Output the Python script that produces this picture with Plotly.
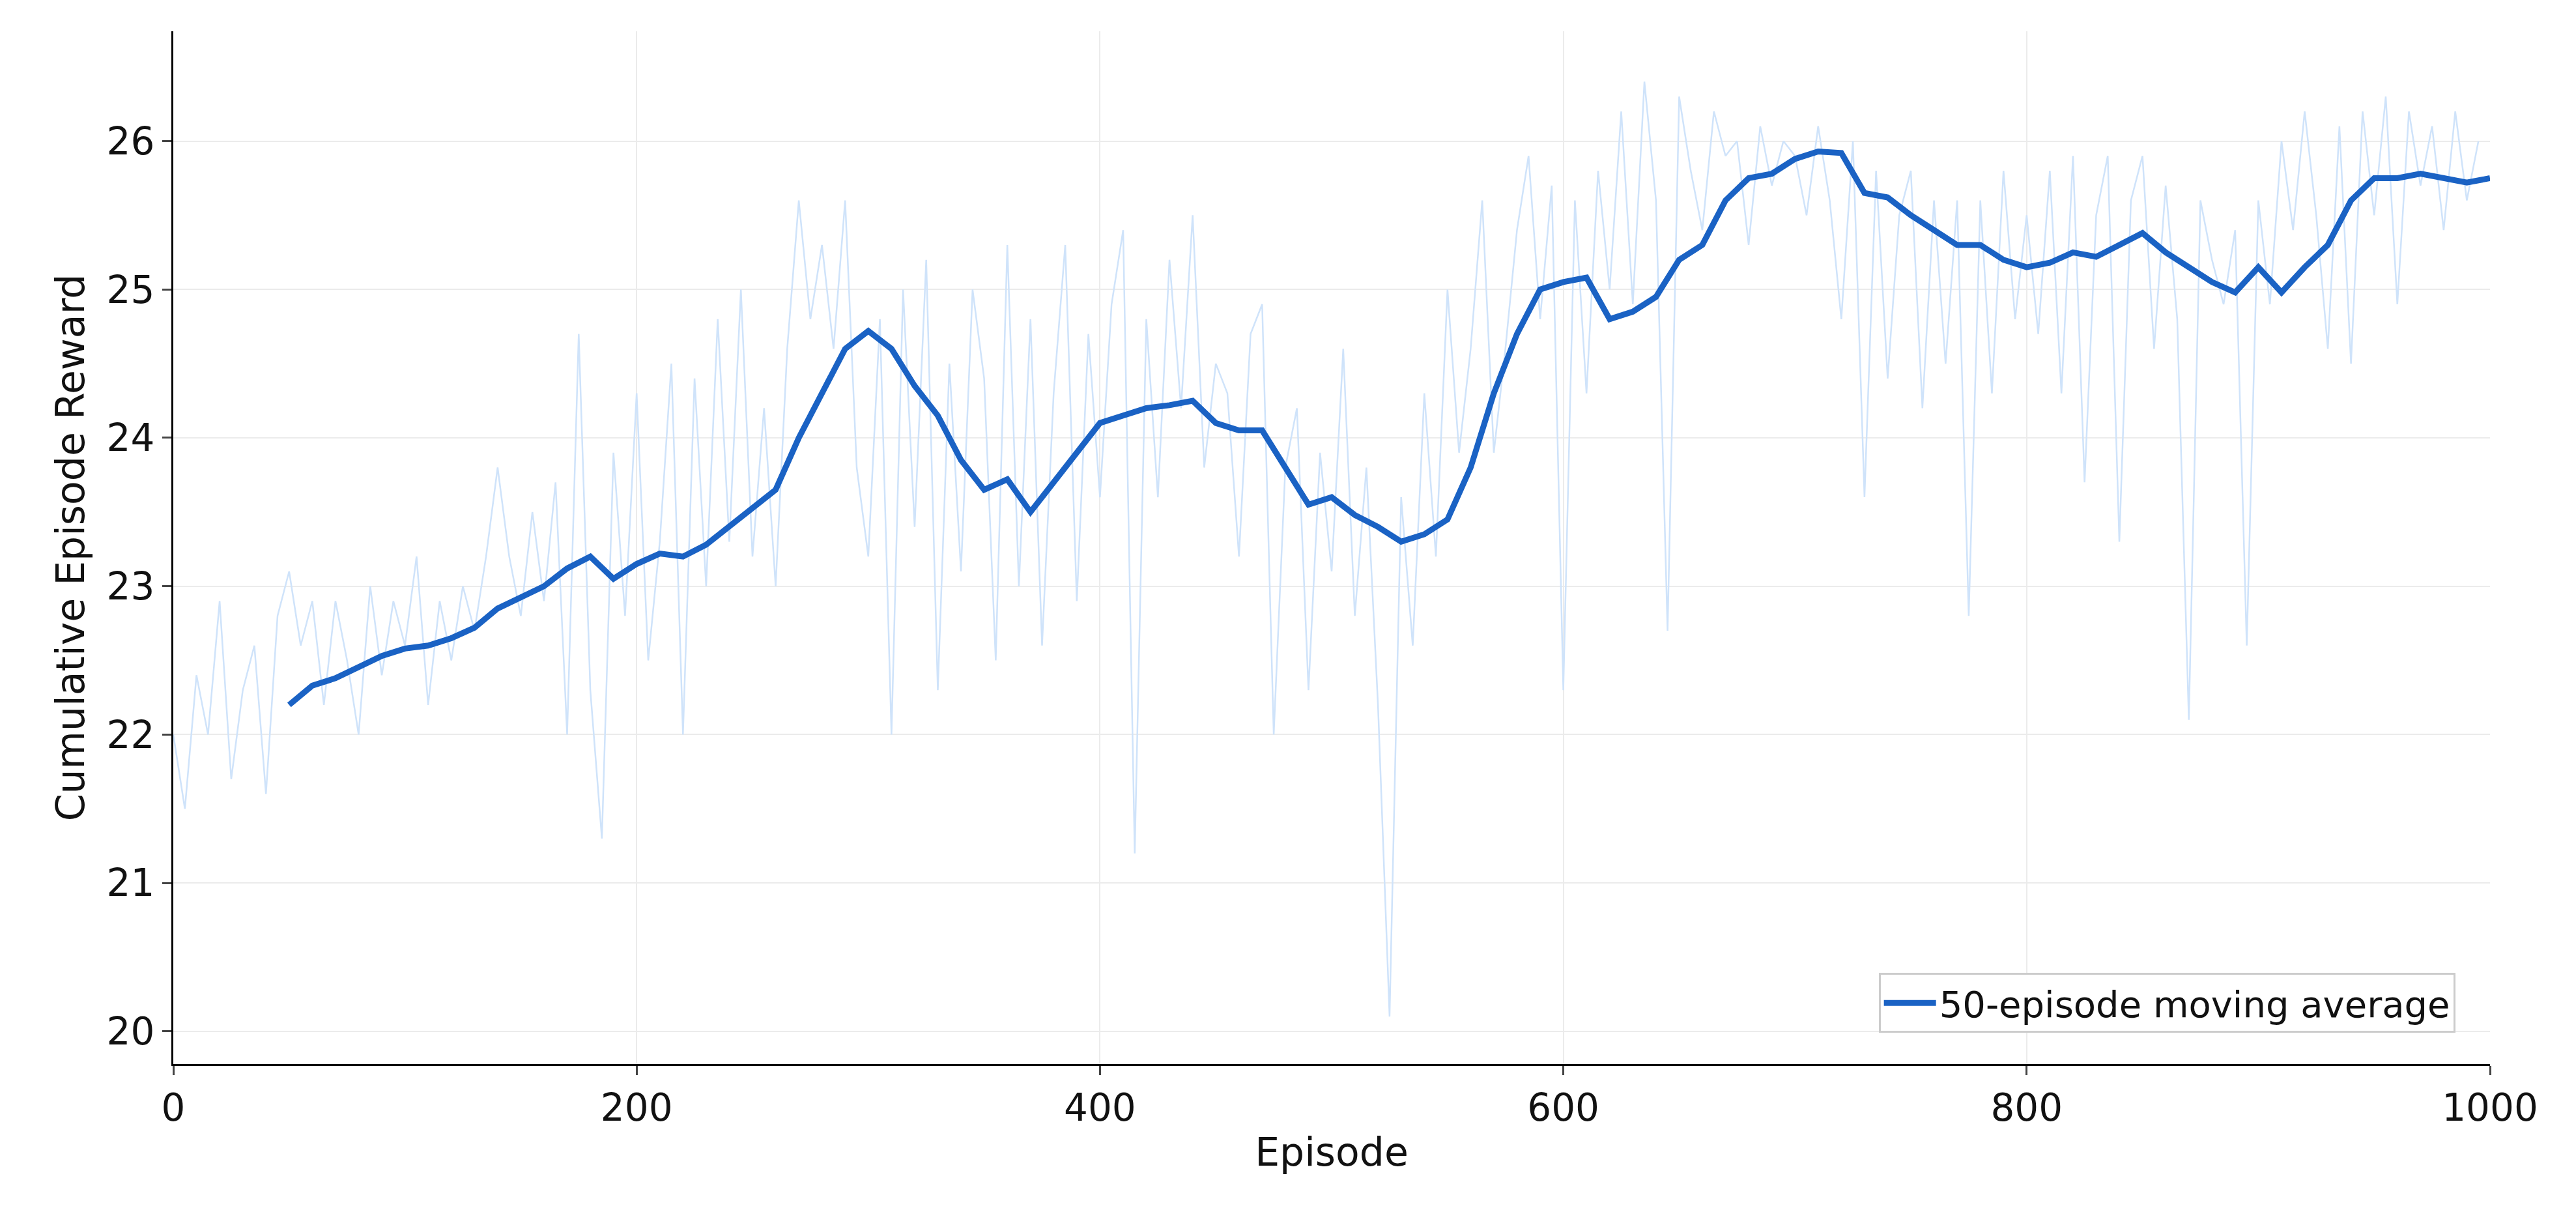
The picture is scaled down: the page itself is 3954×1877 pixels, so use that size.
import plotly.graph_objects as go

ma_episodes = list(range(50, 1001, 10))
ma_values = [22.2,22.33,22.38,22.45,22.53,22.58,22.6,22.65,22.72,22.85,22.92,23.0,23.12,23.2,23.05,23.15,23.22,23.2,23.28,23.4,
             23.52,23.65,24.0,24.3,24.6,24.72,24.6,24.35,24.15,23.85,23.65,23.72,23.5,23.7,23.9,24.1,24.15,24.2,24.22,24.25,
             24.1,24.05,24.05,23.8,23.55,23.6,23.48,23.4,23.3,23.35,23.45,23.8,24.3,24.7,25.0,25.05,25.08,24.8,24.85,24.95,
             25.2,25.3,25.6,25.75,25.78,25.88,25.93,25.92,25.65,25.62,25.5,25.4,25.3,25.3,25.2,25.15,25.18,25.25,25.22,25.3,
             25.38,25.25,25.15,25.05,24.98,25.15,24.98,25.15,25.3,25.6,25.75,25.75,25.78,25.75,25.72,25.75]

raw_episodes = list(range(0, 1000, 5))
raw_values = [22.0,21.5,22.4,22.0,22.9,21.7,22.3,22.6,21.6,22.8,
              23.1,22.6,22.9,22.2,22.9,22.5,22.0,23.0,22.4,22.9,
              22.6,23.2,22.2,22.9,22.5,23.0,22.7,23.2,23.8,23.2,
              22.8,23.5,22.9,23.7,22.0,24.7,22.3,21.3,23.9,22.8,
              24.3,22.5,23.3,24.5,22.0,24.4,23.0,24.8,23.3,25.0,
              23.2,24.2,23.0,24.6,25.6,24.8,25.3,24.6,25.6,23.8,
              23.2,24.8,22.0,25.0,23.4,25.2,22.3,24.5,23.1,25.0,
              24.4,22.5,25.3,23.0,24.8,22.6,24.3,25.3,22.9,24.7,
              23.6,24.9,25.4,21.2,24.8,23.6,25.2,24.2,25.5,23.8,
              24.5,24.3,23.2,24.7,24.9,22.0,23.8,24.2,22.3,23.9,
              23.1,24.6,22.8,23.8,22.2,20.1,23.6,22.6,24.3,23.2,
              25.0,23.9,24.6,25.6,23.9,24.6,25.4,25.9,24.8,25.7,
              22.3,25.6,24.3,25.8,25.0,26.2,24.9,26.4,25.6,22.7,
              26.3,25.8,25.4,26.2,25.9,26.0,25.3,26.1,25.7,26.0,
              25.9,25.5,26.1,25.6,24.8,26.0,23.6,25.8,24.4,25.5,
              25.8,24.2,25.6,24.5,25.6,22.8,25.6,24.3,25.8,24.8,
              25.5,24.7,25.8,24.3,25.9,23.7,25.5,25.9,23.3,25.6,
              25.9,24.6,25.7,24.8,22.1,25.6,25.2,24.9,25.4,22.6,
              25.6,24.9,26.0,25.4,26.2,25.5,24.6,26.1,24.5,26.2,
              25.5,26.3,24.9,26.2,25.7,26.1,25.4,26.2,25.6,26.0]

x_ticks = [0, 200, 400, 600, 800, 1000]
y_ticks = [20, 21, 22, 23, 24, 25, 26]

fig = go.Figure()
fig.add_trace(go.Scatter(x=raw_episodes, y=raw_values, mode="lines",
                         line=dict(color="#cfe3fa", width=2.5), showlegend=False))
fig.add_trace(go.Scatter(x=ma_episodes, y=ma_values, mode="lines",
                         line=dict(color="#1a62c4", width=9),
                         name="50-episode moving average"))

font = "DejaVu Sans, Liberation Sans, sans-serif"
fig.update_layout(
    width=3954, height=1877,
    paper_bgcolor="white", plot_bgcolor="white",
    font=dict(family=font, size=58, color="#111"),
    margin=dict(l=258, r=140, t=40, b=252),
    legend=dict(x=0.985, y=0.03, xanchor="right", yanchor="bottom",
                bordercolor="#cccccc", borderwidth=3, bgcolor="white",
                itemwidth=80, font=dict(size=56)),
    xaxis=dict(range=[0, 1000], tickvals=x_ticks, showgrid=True,
               gridcolor="#ebebeb", gridwidth=2, showline=True, linecolor="black",
               linewidth=3, ticks="outside", ticklen=14, tickwidth=3,
               title=dict(text="Episode", font=dict(size=60)), zeroline=False),
    yaxis=dict(range=[19.78, 26.74], tickvals=y_ticks, showgrid=True,
               gridcolor="#ebebeb", gridwidth=2, showline=True, linecolor="black",
               linewidth=3, ticks="outside", ticklen=14, tickwidth=3,
               title=dict(text="Cumulative Episode Reward", font=dict(size=60)),
               zeroline=False),
)
fig.write_html("out.html")
